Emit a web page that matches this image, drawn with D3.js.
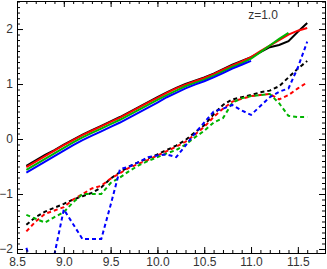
<!DOCTYPE html>
<html>
<head>
<meta charset="utf-8">
<script src="https://cdn.jsdelivr.net/npm/d3@7"></script>
<style>
  body { margin: 0; background: #fff; }
  svg { display: block; }
  .tick text { font-family: "Liberation Sans", Arial, sans-serif; font-size: 12px; fill: #333; }
</style>
</head>
<body>
<svg id="chart" width="327" height="269"></svg>
<script>
// log mass grid
const massX = [8.6, 8.7, 8.8, 8.9, 9.0, 9.1, 9.2, 9.3, 9.4, 9.5, 9.6, 9.7, 9.8, 9.9, 10.0,
    10.1, 10.2, 10.3, 10.4, 10.5, 10.6, 10.7, 10.8, 10.9, 11.0, 11.1, 11.2, 11.3, 11.4, 11.5, 11.6];

// solid curves
const solidBlack = [-0.49, -0.39, -0.29, -0.2, -0.1, -0.01, 0.08, 0.16, 0.24, 0.32, 0.4, 0.49, 0.58, 0.67, 0.76,
    0.85, 0.93, 1.0, 1.06, 1.12, 1.19, 1.27, 1.35, 1.42, 1.49, 1.58, 1.67, 1.71, 1.78, 1.95, 2.11];
const solidRed = [-0.51, -0.41, -0.31, -0.21, -0.11, -0.02, 0.07, 0.15, 0.23, 0.31, 0.39, 0.48, 0.57, 0.66, 0.75,
    0.84, 0.92, 0.99, 1.05, 1.11, 1.18, 1.26, 1.34, 1.41, 1.49, 1.6, 1.7, 1.8, 1.9, 1.97, 2.02];
const solidGreen = [-0.56, -0.46, -0.36, -0.26, -0.16, -0.06, 0.03, 0.11, 0.19, 0.27, 0.35, 0.44, 0.53, 0.62, 0.71,
    0.8, 0.88, 0.96, 1.02, 1.08, 1.15, 1.23, 1.31, 1.38, 1.46, 1.58, 1.7, 1.82, 1.93];
const solidBlue = [-0.61, -0.51, -0.41, -0.31, -0.21, -0.11, -0.02, 0.06, 0.14, 0.22, 0.3, 0.39, 0.48, 0.57, 0.66,
    0.76, 0.84, 0.92, 0.99, 1.05, 1.12, 1.2, 1.28, 1.35, 1.42];

// dashed curves
const dashBlack = [-1.56, -1.42, -1.32, -1.25, -1.18, -1.1, -1.04, -0.98, -0.88, -0.72, -0.6, -0.5, -0.42, -0.35, -0.28,
    -0.2, -0.12, -0.02, 0.12, 0.25, 0.45, 0.62, 0.72, 0.76, 0.8, 0.85, 0.88, 0.96, 1.12, 1.28, 1.42];
const dashRed = [-1.68, -1.5, -1.36, -1.3, -1.24, -1.1, -1.0, -0.9, -0.85, -0.72, -0.62, -0.52, -0.45, -0.38, -0.3,
    -0.22, -0.14, -0.05, 0.08, 0.22, 0.4, 0.55, 0.68, 0.73, 0.78, 0.8, 0.82, 0.72, 0.8, 0.92, 1.03];
const dashGreen = [-1.38, -1.45, -1.52, -1.42, -1.33, -1.15, -1.0, -1.0, -1.0, -0.8, -0.7, -0.58, -0.48, -0.4, -0.33,
    -0.26, -0.2, -0.1, 0.03, 0.15, 0.3, 0.38, 0.66, 0.74, 0.78, 0.8, 0.82, 0.65, 0.42, 0.4, 0.4];
const dashBlue = [-1.98, -2.5, -2.5, -2.1, -1.28, -1.55, -1.82, -1.82, -1.82, -1.2, -0.55, -0.5, -0.42, -0.33, -0.3,
    -0.28, -0.33, -0.12, 0.1, 0.3, 0.5, 0.55, 0.62, 0.52, 0.44, 0.6, 0.76, 0.86, 0.92, 1.3, 1.77];

const xTicks = [8.5, 9.0, 9.5, 10.0, 10.5, 11.0, 11.5];
const yTicks = [-2, -1, 0, 1, 2];
const label = "z=1.0";

const svg = d3.select("#chart");
const pLeft = 17, pRight = 325, pTop = 1, pBottom = 253;

const x = d3.scaleLinear().domain([8.5, 11.79]).range([pLeft, pRight]);
const y = d3.scaleLinear().domain([-2.073, 2.51]).range([pBottom, pTop]);

// 裁剪区域
svg.append("clipPath").attr("id", "clip")
    .append("rect")
    .attr("x", pLeft).attr("y", pTop)
    .attr("width", pRight - pLeft).attr("height", pBottom - pTop);

const plot = svg.append("g").attr("clip-path", "url(#clip)");

const line = d3.line()
    .x((d, i) => x(massX[i]))
    .y(d => y(d));

const series = [
    { values: solidBlack, color: "#000000", dash: null },
    { values: solidRed, color: "#ff0000", dash: null },
    { values: solidGreen, color: "#00b400", dash: null },
    { values: solidBlue, color: "#0000ff", dash: null },
    { values: dashBlack, color: "#000000", dash: "4,3" },
    { values: dashRed, color: "#ff0000", dash: "4,3" },
    { values: dashGreen, color: "#00b400", dash: "4,3" },
    { values: dashBlue, color: "#0000ff", dash: "4,3" }
];

series.forEach(s => {
    plot.append("path")
        .datum(s.values)
        .attr("d", line)
        .attr("fill", "none")
        .attr("stroke", s.color)
        .attr("stroke-width", 2)
        .attr("stroke-dasharray", s.dash);
});

// 坐标轴（四边刻度朝内）
const xMinor = d3.range(8.5, 11.79, 0.1);
const yMinor = d3.range(-2.0, 2.51, 0.1);

function styleAxis(g) {
    g.select(".domain").attr("stroke", "#000");
    g.selectAll(".tick line").attr("stroke", "#000");
}

// minor ticks
svg.append("g").attr("transform", `translate(0,${pBottom})`)
    .call(d3.axisBottom(x).tickValues(xMinor).tickSize(-3).tickFormat(""))
    .call(styleAxis);
svg.append("g").attr("transform", `translate(0,${pTop})`)
    .call(d3.axisTop(x).tickValues(xMinor).tickSize(-3).tickFormat(""))
    .call(styleAxis);
svg.append("g").attr("transform", `translate(${pLeft},0)`)
    .call(d3.axisLeft(y).tickValues(yMinor).tickSize(-3).tickFormat(""))
    .call(styleAxis);
svg.append("g").attr("transform", `translate(${pRight},0)`)
    .call(d3.axisRight(y).tickValues(yMinor).tickSize(-3).tickFormat(""))
    .call(styleAxis);

// major ticks
svg.append("g").attr("transform", `translate(0,${pBottom})`)
    .call(d3.axisBottom(x).tickValues(xTicks).tickSize(-6).tickFormat(d3.format(".1f")))
    .call(styleAxis)
    .call(g => g.selectAll(".tick text").attr("y", 4));
svg.append("g").attr("transform", `translate(0,${pTop})`)
    .call(d3.axisTop(x).tickValues(xTicks).tickSize(-6).tickFormat(""))
    .call(styleAxis);
svg.append("g").attr("transform", `translate(${pLeft},0)`)
    .call(d3.axisLeft(y).tickValues(yTicks).tickSize(-6).tickFormat(d3.format("d")))
    .call(styleAxis)
    .call(g => g.selectAll(".tick text").attr("x", -4));
svg.append("g").attr("transform", `translate(${pRight},0)`)
    .call(d3.axisRight(y).tickValues(yTicks).tickSize(-6).tickFormat(""))
    .call(styleAxis);

svg.append("text")
    .attr("x", 263)
    .attr("y", 19)
    .attr("text-anchor", "middle")
    .style("font-family", "Liberation Sans, Arial, sans-serif")
    .style("font-size", "12px")
    .style("fill", "#333")
    .text(label);
</script>
</body>
</html>
